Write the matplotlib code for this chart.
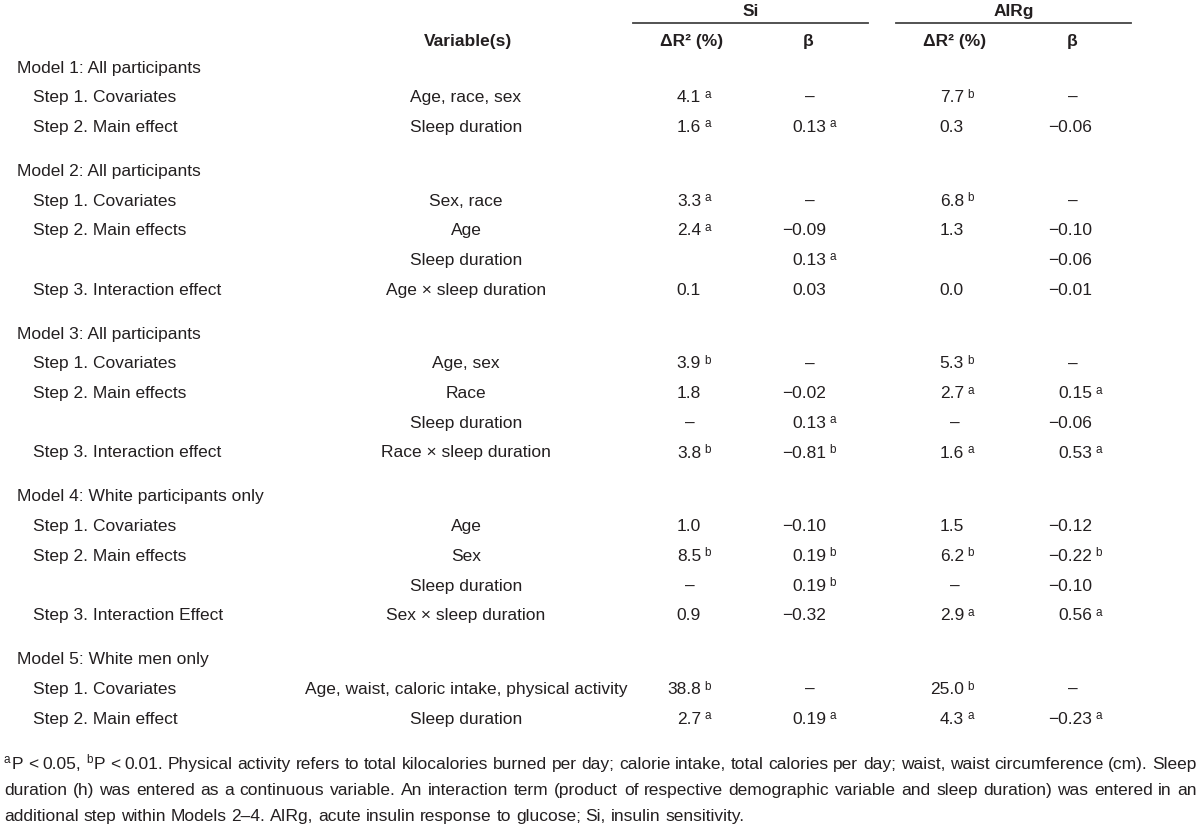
import matplotlib
matplotlib.use("Agg")
import matplotlib.pyplot as plt

plt.rcParams["font.family"] = ["Liberation Sans", "DejaVu Sans"]

# table content
row_labels = [
    "Model 1: All participants", "Step 1. Covariates", "Step 2. Main effect",
    "Model 2: All participants", "Step 1. Covariates", "Step 2. Main effects", "",
    "Step 3. Interaction effect",
    "Model 3: All participants", "Step 1. Covariates", "Step 2. Main effects", "",
    "Step 3. Interaction effect",
    "Model 4: White participants only", "Step 1. Covariates", "Step 2. Main effects", "",
    "Step 3. Interaction Effect",
    "Model 5: White men only", "Step 1. Covariates", "Step 2. Main effect",
]
variables = [
    "", "Age, race, sex", "Sleep duration",
    "", "Sex, race", "Age", "Sleep duration", "Age × sleep duration",
    "", "Age, sex", "Race", "Sleep duration", "Race × sleep duration",
    "", "Age", "Sex", "Sleep duration", "Sex × sleep duration",
    "", "Age, waist, caloric intake, physical activity", "Sleep duration",
]
# trailing a/b = significance superscript
si_r2 = ["", "4.1a", "1.6a", "", "3.3a", "2.4a", "", "0.1", "", "3.9b", "1.8", "–",
         "3.8b", "", "1.0", "8.5b", "–", "0.9", "", "38.8b", "2.7a"]
si_beta = ["", "–", "0.13a", "", "–", "−0.09", "0.13a", "0.03", "", "–", "−0.02",
           "0.13a", "−0.81b", "", "−0.10", "0.19b", "0.19b", "−0.32", "", "–", "0.19a"]
airg_r2 = ["", "7.7b", "0.3", "", "6.8b", "1.3", "", "0.0", "", "5.3b", "2.7a", "–",
           "1.6a", "", "1.5", "6.2b", "–", "2.9a", "", "25.0b", "4.3a"]
airg_beta = ["", "–", "−0.06", "", "–", "−0.10", "−0.06", "−0.01", "", "–", "0.15a",
             "−0.06", "0.53a", "", "−0.12", "−0.22b", "−0.10", "0.56a", "", "–", "−0.23a"]

# footnote lines; "^x" marks a superscript letter at the start of a word
footnote = [
    "^aP < 0.05, ^bP < 0.01. Physical activity refers to total kilocalories burned per day; "
    "calorie intake, total calories per day; waist, waist circumference (cm). Sleep",
    "duration (h) was entered as a continuous variable. An interaction term (product of "
    "respective demographic variable and sleep duration) was entered in an",
    "additional step within Models 2–4. AIRg, acute insulin response to glucose; Si, "
    "insulin sensitivity.",
]

INK = "#231f20"
FS = 12.5
FOOT_FS = 12.5
SUP_FS = 8.5

fig = plt.figure(figsize=(12, 8.33), dpi=100)
ax = fig.add_axes([0, 0, 1, 1])
ax.set_xlim(0, 1200)
ax.set_ylim(833, 0)
ax.axis("off")
renderer = fig.canvas.get_renderer()

# column positions (number right edge, dash centre)
cols = [
    (si_r2, 701, 690),
    (si_beta, 826, 810),
    (airg_r2, 964, 955),
    (airg_beta, 1092, 1073),
]

# headers
bold = dict(ha="center", va="center", fontsize=FS, fontweight="bold", color=INK)
ax.text(751, 11, "Si", **bold)
ax.text(1014, 11, "AIRg", **bold)
ax.plot([633, 868], [23, 23], color="#444444", lw=1.3)
ax.plot([896, 1131], [23, 23], color="#444444", lw=1.3)
ax.text(468, 41, "Variable(s)", **bold)
for hx, htxt in [(692, "ΔR² (%)"), (808, "β"), (955, "ΔR² (%)"), (1072, "β")]:
    ax.text(hx, 41, htxt, **bold)


def cell(values, i, x_num, x_dash, y):
    s = values[i]
    if not s:
        return
    if s == "–":
        ax.text(x_dash, y, s, ha="center", va="center", fontsize=FS, color=INK)
        return
    sup = ""
    if s[-1] in "ab":
        s, sup = s[:-1], s[-1]
    t = ax.text(x_num, y, s, ha="right", va="center", fontsize=FS, color=INK)
    if sup:
        ax.annotate(sup, xy=(1, y), xycoords=(t, "data"), xytext=(2.5, 0),
                    textcoords="offset points", ha="left", va="baseline",
                    fontsize=SUP_FS, color=INK)


# body rows
y = 68
for i, label in enumerate(row_labels):
    is_model = label.startswith("Model")
    if i > 0:
        y += 44 if is_model else 29.7
    if label:
        ax.text(17 if is_model else 33, y, label, ha="left", va="center",
                fontsize=FS, color=INK)
    if variables[i]:
        ax.text(466, y, variables[i], ha="center", va="center", fontsize=FS, color=INK)
    for values, xn, xd in cols:
        cell(values, i, xn, xd, y)


# footnote: lay words out with normal spacing, then justify all but the last line
def draw_word(x, base, word):
    parts = [(word[1], True), (word[2:], False)] if word.startswith("^") else [(word, False)]
    arts = []
    for txt, is_sup in parts:
        t = ax.text(x, base - 6 if is_sup else base, txt, ha="left", va="baseline",
                    fontsize=SUP_FS if is_sup else FOOT_FS, color=INK)
        x += t.get_window_extent(renderer).width + (1 if is_sup else 0)
        arts.append(t)
    return x, arts


left, right = 4, 1197
space = FOOT_FS * 0.278 * 100 / 72
for j, line in enumerate(footnote):
    base = 769 + j * 26
    x = left
    placed = []
    for w in line.split(" "):
        end, arts = draw_word(x, base, w)
        placed.append(arts)
        x = end + space
    if j < len(footnote) - 1:
        gap = (right - (x - space)) / (len(placed) - 1)
        for k, arts in enumerate(placed):
            for t in arts:
                t.set_x(t.get_position()[0] + k * gap)

fig.savefig("out.png", dpi=100)
